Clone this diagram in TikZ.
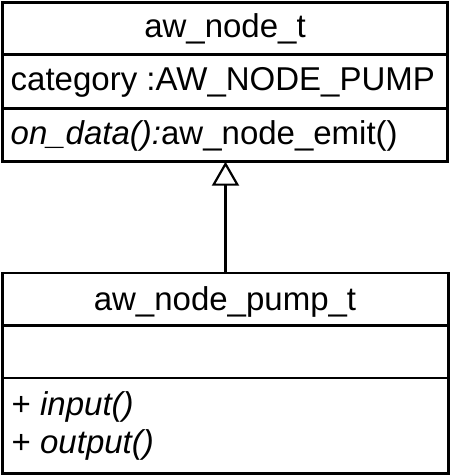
\documentclass[tikz,border=0pt]{standalone}
\usepackage{fontspec}
\setmainfont{Liberation Sans}
\usetikzlibrary{arrows.meta}
\begin{document}
\begin{tikzpicture}[x=1pt,y=-1pt,
  umlbox/.style={draw,line width=2.7pt,inner sep=0pt,outer sep=0pt,anchor=north west},
  sep/.style={line width=2.6pt},
  txt/.style={inner sep=0pt,font=\fontsize{33}{38}\selectfont},
  inherit/.style={line width=3pt,-{Triangle[open,width=27pt,length=24pt,line width=2.2pt]}}]
\useasboundingbox (0,0) rectangle (451,476);
% top class
\node[umlbox,minimum width=445pt,minimum height=159.2pt] (base) at (2.7,2.5) {};
\draw[sep] (base.west |- 0,54.7) -- (base.east |- 0,54.7);
\draw[sep] (base.west |- 0,108.7) -- (base.east |- 0,108.7);
\node[txt,anchor=base] (bname) at (225,37.5) {aw\_node\_t};
\node[txt,anchor=base west] (battr) at (10.5,91) {category :AW\_NODE\_PUMP};
\node[txt,anchor=base west] (bop) at (10.5,144) {\textit{on\_data():}aw\_node\_emit()};
% bottom class
\node[umlbox,minimum width=445.8pt,minimum height=200.5pt] (pump) at (2.7,273) {};
\draw[sep] (pump.west |- 0,325.7) -- (pump.east |- 0,325.7);
\draw[sep] (pump.west |- 0,378) -- (pump.east |- 0,378);
\node[txt,anchor=base] (pname) at (225,310) {aw\_node\_pump\_t};
\node[txt,anchor=base west] (pin) at (11.5,415) {+ \textit{input()}};
\node[txt,anchor=base west] (pout) at (11.5,453) {+ \textit{output()}};
% inheritance
\draw[inherit] (pump.north -| 225.5,0) -- (base.south -| 225.5,0);
\end{tikzpicture}
\end{document}
